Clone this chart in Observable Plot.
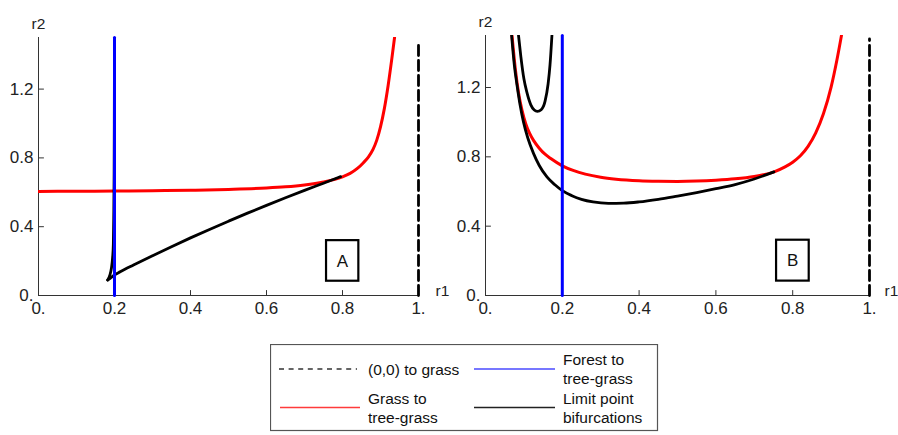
<!DOCTYPE html>
<html><head><meta charset="utf-8">
<script src="https://cdn.jsdelivr.net/npm/d3@7"></script>
<script src="https://cdn.jsdelivr.net/npm/@observablehq/plot@0.6"></script>
<style>
body{margin:0;background:#fff;}
#wrap{position:relative;width:898px;height:435px;font-family:"Liberation Sans",Arial,Helvetica,sans-serif;}
#a,#b,#legend{position:absolute;top:0;}
#a{left:0}
#b{left:449px}
#legend{left:270px;top:344px;}
</style></head><body>
<div id="wrap"><div id="a"></div><div id="b"></div><div id="legend"></div></div>
<script>
// ---------- data ----------
const xTicks = [0, 0.2, 0.4, 0.6, 0.8, 1];
const xTickLabels = ["0.", "0.2", "0.4", "0.6", "0.8", "1."];
const yTicks = [0, 0.4, 0.8, 1.2];
const yTickLabels = ["0.", "0.4", "0.8", "1.2"];
const panelNames = ["A", "B"];
const legendLabels = [["(0,0) to grass"], ["Forest to", "tree-grass"], ["Grass to", "tree-grass"], ["Limit point", "bifurcations"]];

// Panel A  [r1, r2]
const redA = [[0,0.605],[0.1,0.606],[0.2,0.607],[0.3,0.609],[0.4,0.612],[0.5,0.617],[0.6,0.625],[0.65,0.632],[0.7,0.643],[0.75,0.66],[0.78,0.675],[0.8,0.69],[0.82,0.71],[0.84,0.74],[0.855,0.772],[0.868,0.805],[0.88,0.848],[0.89,0.902],[0.9,0.98],[0.91,1.085],[0.92,1.22],[0.93,1.38],[0.937,1.5]];
const limitA_upper = [[0.182,0.09],[0.188,0.12],[0.192,0.16],[0.195,0.22],[0.197,0.3],[0.198,0.45],[0.199,0.7],[0.1995,1.0],[0.2,1.5]];
const limitA_lower = [[0.182,0.09],[0.19,0.103],[0.2,0.12],[0.215,0.138],[0.25,0.177],[0.3,0.231],[0.35,0.284],[0.4,0.335],[0.45,0.384],[0.5,0.432],[0.55,0.479],[0.6,0.524],[0.65,0.568],[0.7,0.611],[0.75,0.653],[0.795,0.691]];
const forestA = [[0.2,0],[0.2,1.5]];
const grassA = [[1,0],[1,1.48]];

// Panel B  [r1, r2]
const redB = [[0.069,1.5],[0.078,1.3],[0.086,1.17],[0.095,1.07],[0.105,0.99],[0.115,0.935],[0.125,0.895],[0.14,0.85],[0.155,0.815],[0.17,0.79],[0.2,0.748],[0.23,0.72],[0.26,0.7],[0.3,0.682],[0.34,0.671],[0.4,0.662],[0.45,0.659],[0.5,0.658],[0.55,0.66],[0.6,0.665],[0.65,0.673],[0.7,0.687],[0.75,0.712],[0.78,0.742],[0.8,0.769],[0.82,0.806],[0.84,0.86],[0.86,0.938],[0.88,1.048],[0.9,1.202],[0.915,1.357],[0.927,1.5]];
const limitB_outer = [[0.068,1.5],[0.075,1.33],[0.083,1.2],[0.09,1.1],[0.099,1.0],[0.11,0.91],[0.125,0.82],[0.14,0.75],[0.16,0.684],[0.18,0.64],[0.2,0.605],[0.225,0.576],[0.25,0.555],[0.28,0.54],[0.32,0.532],[0.36,0.533],[0.4,0.54],[0.45,0.555],[0.5,0.574],[0.55,0.594],[0.6,0.616],[0.65,0.64],[0.7,0.672],[0.751,0.713]];
const limitB_inner = [[0.086,1.5],[0.092,1.38],[0.1,1.25],[0.108,1.17],[0.118,1.1],[0.127,1.07],[0.135,1.062],[0.145,1.072],[0.155,1.12],[0.163,1.22],[0.168,1.33],[0.173,1.5]];
const forestB = [[0.2,0],[0.2,1.5]];
const grassB = [[1,0],[1,1.48]];

// ---------- drawing ----------
const FONT = '"Liberation Sans", Arial, Helvetica, sans-serif';
const AX = "#333";
const tickUp = {draw(ctx, l) { ctx.moveTo(0, 0); ctx.lineTo(0, -l); }};
const fmtX = d => xTickLabels[xTicks.indexOf(d)];
const fmtY = d => yTickLabels[yTicks.indexOf(d)];
const line = (data, stroke, extra = {}) => Plot.line(data, {x: d => d[0], y: d => d[1], stroke, strokeWidth: 2.8, curve: "monotone-x", ...extra});

function panel({name, margins, rdx, curves}) {
  return Plot.plot({
    width: 449, height: 330,
    ...margins,
    x: {domain: [0, 1]},
    y: {domain: [0, 1.5]},
    style: {fontFamily: FONT, fontSize: "17px", color: "#222", background: "none", overflow: "visible"},
    marks: [
      Plot.ruleX([0], {stroke: AX, strokeWidth: 1}),
      Plot.ruleY([0], {stroke: AX, strokeWidth: 1}),
      Plot.vector(xTicks.filter(d => d > 0 && d < 1), {x: d => d, y: 0, length: 5, rotate: 0, anchor: "start", shape: tickUp, stroke: AX, strokeWidth: 1}),
      Plot.vector(yTicks.filter(d => d > 0), {x: 0, y: d => d, length: 5, rotate: 90, anchor: "start", shape: tickUp, stroke: AX, strokeWidth: 1}),
      Plot.axisX(xTicks, {tickSize: 0, tickPadding: 6, tickFormat: fmtX, fontSize: 17, label: null}),
      Plot.axisY(yTicks, {tickSize: 0, tickPadding: 5, tickFormat: fmtY, fontSize: 17, label: null}),
      Plot.text(["r2"], {text: d => d, frameAnchor: "top-left", dy: -20, textAnchor: "middle", fontSize: 15.5, fill: "#222"}),
      Plot.text(["r1"], {text: d => d, frameAnchor: "bottom-right", dx: rdx, dy: 0, textAnchor: "start", fontSize: 15.5, fill: "#222"}),
      ...curves,
      Plot.rect([name], {x1: () => 0.758, x2: () => 0.843, y1: () => 0.083, y2: () => 0.319, fill: "white", stroke: "black", strokeWidth: 2.2}),
      Plot.text([name], {text: d => d, x: () => 0.8, y: () => 0.2, fontSize: 17, fill: "#111"})
    ]
  });
}

const plotA = panel({
  name: panelNames[0],
  rdx: 17,
  margins: {marginLeft: 38, marginRight: 31, marginTop: 37, marginBottom: 35},
  curves: [
    line(grassA, "black", {strokeDasharray: "10,5", curve: "linear"}),
    line(redA, "#ff0000", {strokeWidth: 3, clip: true}),
    line(limitA_upper, "black", {clip: true}),
    line(limitA_lower, "black"),
    line(forestA, "#0000ff", {strokeWidth: 3, curve: "linear"})
  ]
});
const plotB = panel({
  name: panelNames[1],
  rdx: 15,
  margins: {marginLeft: 36, marginRight: 29, marginTop: 35, marginBottom: 35},
  curves: [
    line(grassB, "black", {strokeDasharray: "10,5", curve: "linear"}),
    line(redB, "#ff0000", {strokeWidth: 3, clip: true}),
    line(limitB_outer, "black", {clip: true}),
    line(limitB_inner, "black", {clip: true}),
    line(forestB, "#0000ff", {strokeWidth: 3, curve: "linear"})
  ]
});
document.getElementById("a").append(plotA);
document.getElementById("b").append(plotB);

// ---------- legend ----------
const lg = d3.select("#legend").append("svg").attr("width", 389).attr("height", 88)
  .style("font-family", FONT).style("font-size", "15.5px");
lg.append("rect").attr("x", 0.5).attr("y", 0.5).attr("width", 387).attr("height", 86)
  .attr("fill", "white").attr("stroke", "#555").attr("stroke-width", 1.2);
const samples = [
  {x1: 9, x2: 87, y: 25, stroke: "#333", dash: "5,4.6", tx: 98, ty: [30.5]},
  {x1: 204, x2: 285, y: 25, stroke: "#4a4aff", dash: null, tx: 293, ty: [21, 40]},
  {x1: 10, x2: 90, y: 63.5, stroke: "#ff3b3b", dash: null, tx: 98, ty: [60, 79]},
  {x1: 204, x2: 285, y: 63.5, stroke: "#222", dash: null, tx: 293, ty: [60, 79]}
];
samples.forEach((s, i) => {
  lg.append("line").attr("x1", s.x1).attr("x2", s.x2).attr("y1", s.y).attr("y2", s.y)
    .attr("stroke", s.stroke).attr("stroke-width", 1.4).attr("stroke-dasharray", s.dash);
  legendLabels[i].forEach((t, j) => {
    lg.append("text").attr("x", s.tx).attr("y", s.ty[j]).attr("fill", "#111").text(t);
  });
});
</script>
</body></html>
